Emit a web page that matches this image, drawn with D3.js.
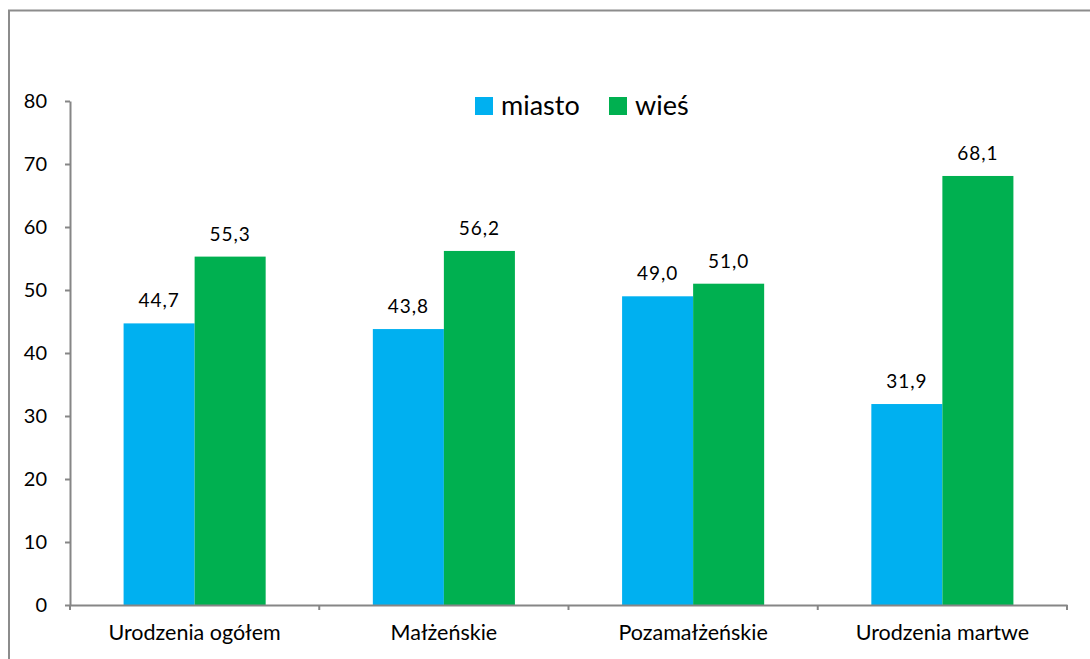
<!DOCTYPE html>
<html>
<head>
<meta charset="utf-8">
<script src="https://cdn.jsdelivr.net/npm/d3@7"></script>
<style>
  body { margin: 0; background: #fff; }
  svg text { font-family: Lato, "Noto Sans", sans-serif; fill: #000; }
</style>
</head>
<body>
<div id="chart"></div>
<script>

// data
var categories = ["Urodzenia ogółem", "Małżeńskie", "Pozamałżeńskie", "Urodzenia martwe"];
var series = ["miasto", "wieś"];
var miasto = [44.7, 43.8, 49.0, 31.9];
var wies = [55.3, 56.2, 51.0, 68.1];
var yTicks = [0, 10, 20, 30, 40, 50, 60, 70, 80];
var colors = ["#00b0f0", "#00b050"];

var W = 1090, H = 659;
var margin = {top: 101, left: 70, right: 23, bottom: 54};

var plc = d3.formatLocale({decimal: ",", thousands: " ", grouping: [3], currency: ["", " zł"]});
var fmt = plc.format(".1f");

var svg = d3.select("#chart").append("svg")
  .attr("width", W)
  .attr("height", H);

// outer frame (runs off the right and bottom edge)
svg.append("rect")
  .attr("x", 9).attr("y", 10.5)
  .attr("width", W + 20).attr("height", H + 20)
  .attr("fill", "none")
  .attr("stroke", "#8c8c8c")
  .attr("stroke-width", 2);

var x = d3.scaleBand()
  .domain(categories)
  .range([margin.left, W - margin.right]);

var bw = x.bandwidth();
var x1 = d3.scaleBand()
  .domain(series)
  .range([bw * 0.215, bw * 0.785]);

var y = d3.scaleLinear()
  .domain([0, 80])
  .range([H - margin.bottom, margin.top]);

var values = [miasto, wies];

// bars
series.forEach(function(s, si) {
  svg.append("g")
    .selectAll("rect")
    .data(values[si])
    .enter().append("rect")
    .attr("x", function(d, i) { return x(categories[i]) + x1(s); })
    .attr("y", function(d) { return y(d); })
    .attr("width", x1.bandwidth())
    .attr("height", function(d) { return y(0) - y(d); })
    .attr("fill", colors[si]);

  svg.append("g")
    .selectAll("text")
    .data(values[si])
    .enter().append("text")
    .attr("x", function(d, i) { return x(categories[i]) + x1(s) + x1.bandwidth() / 2; })
    .attr("y", function(d) { return y(d) - 16; })
    .attr("text-anchor", "middle")
    .style("font-size", "19px")
    .style("letter-spacing", "1px")
    .text(function(d) { return fmt(d); });
});

// y axis
var yAxis = d3.axisLeft(y)
  .tickValues(yTicks)
  .tickSize(5)
  .tickSizeOuter(0)
  .tickPadding(18);

var gy = svg.append("g")
  .attr("transform", "translate(" + margin.left + ",0)")
  .call(yAxis);
gy.select(".domain").attr("stroke", "#868686").attr("stroke-width", 2);
gy.selectAll(".tick line").attr("stroke", "#868686").attr("stroke-width", 2);
gy.selectAll(".tick text").style("font-size", "20px").attr("fill", "#000");

// x axis: labels at band centres, ticks at band edges
var xAxis = d3.axisBottom(x)
  .tickSize(0)
  .tickPadding(20);

var gx = svg.append("g")
  .attr("transform", "translate(0," + y(0) + ")")
  .call(xAxis);
gx.select(".domain").attr("stroke", "#868686").attr("stroke-width", 2);
gx.selectAll(".tick text").style("font-size", "21.5px").attr("fill", "#000");

var edges = categories.map(function(c) { return x(c); }).concat([x.range()[1]]);
gx.selectAll(".edge")
  .data(edges)
  .enter().append("line")
  .attr("class", "edge")
  .attr("x1", function(d) { return d; })
  .attr("x2", function(d) { return d; })
  .attr("y1", 0)
  .attr("y2", 5)
  .attr("stroke", "#868686")
  .attr("stroke-width", 2);

// legend
var legend = svg.append("g")
  .attr("transform", "translate(475,97)");
var lx = [0, 134];
series.forEach(function(s, i) {
  var g = legend.append("g").attr("transform", "translate(" + lx[i] + ",0)");
  g.append("rect")
    .attr("width", 18).attr("height", 18)
    .attr("fill", colors[i]);
  g.append("text")
    .attr("x", 26).attr("y", 18)
    .style("font-size", "27px")
    .text(s);
});

</script>
</body>
</html>
